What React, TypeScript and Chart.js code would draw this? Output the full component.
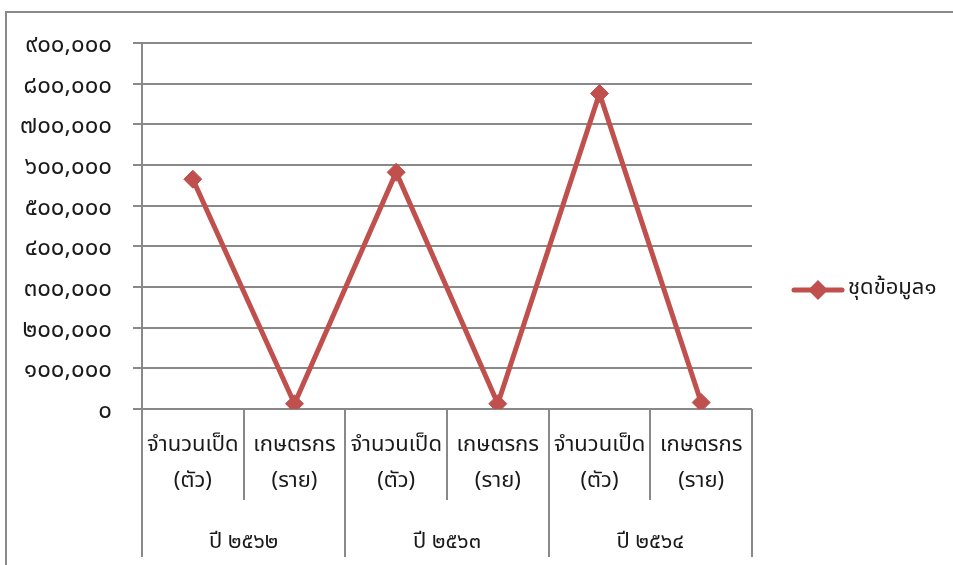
import React, { useEffect, useRef } from 'react';
import { Chart, registerables } from 'chart.js';

Chart.register(...registerables);

const categoryTop = ['จำนวนเป็ด', 'เกษตรกร', 'จำนวนเป็ด', 'เกษตรกร', 'จำนวนเป็ด', 'เกษตรกร'];
const categoryUnit = ['(ตัว)', '(ราย)', '(ตัว)', '(ราย)', '(ตัว)', '(ราย)'];
const years = ['ปี ๒๕๖๒', 'ปี ๒๕๖๓', 'ปี ๒๕๖๔'];
const values = [565000, 13000, 582000, 13000, 776000, 16000];
const seriesName = 'ชุดข้อมูล๑';
const yMin = 0;
const yMax = 900000;
const yStep = 100000;

const thaiDigits = ['๐', '๑', '๒', '๓', '๔', '๕', '๖', '๗', '๘', '๙'];
const toThai = (s: string) => s.replace(/[0-9]/g, (d) => thaiDigits[Number(d)]);

const FONT = "'Noto Sans Thai', 'Noto Sans', Tahoma, sans-serif";
const GRID = '#898989';
const RED = '#C0504D';
const TEXT = '#1a1a1a';

const bottomPlugin = {
  id: 'bottomLabels',
  afterDraw(chart: any) {
    const { ctx, chartArea } = chart;
    const xs = chart.scales.x;
    const n = categoryTop.length;
    const half = (xs.getPixelForValue(1) - xs.getPixelForValue(0)) / 2;
    const base = chartArea.bottom;
    ctx.save();
    // outer border
    ctx.strokeStyle = GRID;
    ctx.lineWidth = 2;
    ctx.beginPath();
    ctx.moveTo(6, 565);
    ctx.lineTo(6, 12);
    ctx.lineTo(953, 12);
    ctx.stroke();
    // separators
    for (let i = 0; i <= n; i++) {
      const x = Math.round(i < n ? xs.getPixelForValue(i) - half : xs.getPixelForValue(n - 1) + half);
      const isGroup = i % 2 === 0;
      ctx.beginPath();
      ctx.moveTo(x, base);
      ctx.lineTo(x, isGroup ? base + 148 : base + 91);
      ctx.stroke();
    }
    // labels
    ctx.fillStyle = TEXT;
    ctx.textAlign = 'center';
    ctx.textBaseline = 'middle';
    ctx.font = `22px ${FONT}`;
    for (let i = 0; i < n; i++) {
      const x = xs.getPixelForValue(i);
      ctx.fillText(categoryTop[i], x, base + 38);
      ctx.fillText(categoryUnit[i], x, base + 74);
    }
    for (let g = 0; g < years.length; g++) {
      const x = (xs.getPixelForValue(2 * g) + xs.getPixelForValue(2 * g + 1)) / 2;
      ctx.fillText(years[g], x, base + 135);
    }
    // legend
    const ly = 290;
    ctx.strokeStyle = RED;
    ctx.lineWidth = 5;
    ctx.lineCap = 'round';
    ctx.beginPath();
    ctx.moveTo(794, ly);
    ctx.lineTo(842, ly);
    ctx.stroke();
    ctx.fillStyle = RED;
    ctx.beginPath();
    ctx.moveTo(818, ly - 10);
    ctx.lineTo(828, ly);
    ctx.lineTo(818, ly + 10);
    ctx.lineTo(808, ly);
    ctx.closePath();
    ctx.fill();
    ctx.fillStyle = TEXT;
    ctx.textAlign = 'left';
    ctx.fillText(seriesName, 848, ly);
    ctx.restore();
  },
};

export default function App() {
  const ref = useRef<HTMLCanvasElement>(null);
  useEffect(() => {
    if (!ref.current) return;
    const labels = categoryTop.map((c, i) => `${c} ${categoryUnit[i]}`);
    const chart = new Chart(ref.current, {
      type: 'line',
      data: {
        labels,
        datasets: [
          {
            label: seriesName,
            data: values,
            borderColor: RED,
            backgroundColor: RED,
            borderWidth: 5,
            pointStyle: 'rectRot',
            pointRadius: 9,
            pointBorderWidth: 1,
            pointBackgroundColor: RED,
            pointBorderColor: RED,
            tension: 0,
          },
        ],
      },
      options: {
        animation: false,
        responsive: true,
        maintainAspectRatio: false,
        layout: { padding: { left: 0, top: 43, right: 201, bottom: 156 } },
        plugins: { legend: { display: false }, tooltip: { enabled: false } },
        scales: {
          x: { type: 'category', display: false, offset: true },
          y: {
            min: yMin,
            max: yMax,
            afterFit: (s: any) => {
              s.width = 142;
            },
            ticks: {
              stepSize: yStep,
              padding: 21,
              labelOffset: 4,
              color: TEXT,
              font: { family: FONT, size: 24 },
              callback: (v: any) => toThai(Number(v).toLocaleString('en-US')),
            },
            grid: { color: GRID, lineWidth: 2, tickLength: 9 },
            border: { display: true, color: GRID, width: 2 },
          },
        },
      },
      plugins: [bottomPlugin],
    });
    return () => chart.destroy();
  }, []);
  return (
    <div style={{ position: 'fixed', left: 0, top: 0, width: 953, height: 565, background: '#fff' }}>
      <canvas ref={ref} />
    </div>
  );
}
